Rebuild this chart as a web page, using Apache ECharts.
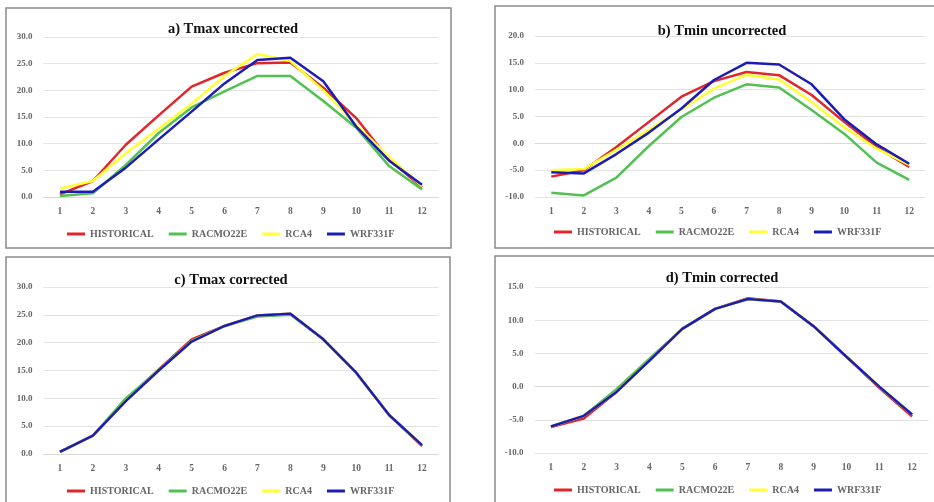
<!DOCTYPE html>
<html><head><meta charset="utf-8">
<script src="https://cdn.jsdelivr.net/npm/echarts@6/dist/echarts.min.js"></script>
<style>html,body{margin:0;padding:0;background:#fff}#c{width:934px;height:502px}</style>
</head><body><div id="c"></div>
<script>
const months = ['1','2','3','4','5','6','7','8','9','10','11','12'];
const seriesNames = ['HISTORICAL','RACMO22E','RCA4','WRF331F'];
const panelTitles = ['a) Tmax uncorrected','b) Tmin uncorrected','c) Tmax corrected','d) Tmin corrected'];

// a) Tmax uncorrected
const aHist  = [0.5, 3.0, 9.8, 15.3, 20.7, 23.3, 25.1, 25.2, 20.5, 14.8, 7.0, 1.8];
const aRacmo = [0.2, 0.7, 6.0, 12.0, 16.8, 19.8, 22.7, 22.7, 18.0, 13.0, 5.8, 1.4];
const aRca4  = [1.6, 3.0, 8.2, 12.8, 17.5, 22.7, 26.8, 25.5, 20.0, 13.5, 7.5, 2.0];
const aWrf   = [1.0, 1.0, 5.5, 10.8, 16.0, 21.3, 25.7, 26.1, 21.7, 13.2, 6.8, 2.3];
// b) Tmin uncorrected
const bHist  = [-6.2, -5.0, -0.7, 4.0, 8.7, 11.6, 13.3, 12.7, 9.0, 4.0, -0.7, -4.4];
const bRacmo = [-9.2, -9.7, -6.4, -0.5, 4.9, 8.5, 11.0, 10.4, 6.2, 1.8, -3.6, -6.8];
const bRca4  = [-5.0, -4.8, -1.2, 2.5, 6.3, 10.2, 12.8, 11.9, 7.7, 3.0, -1.0, -4.0];
const bWrf   = [-5.4, -5.6, -2.0, 2.0, 6.5, 11.8, 15.0, 14.7, 11.0, 4.5, -0.2, -3.8];
// c) Tmax corrected
const cHist  = [0.4, 3.3, 9.6, 15.2, 20.6, 23.0, 24.9, 25.2, 20.6, 14.6, 7.0, 1.4];
const cRacmo = [0.4, 3.3, 10.0, 15.1, 20.3, 23.0, 24.7, 25.0, 20.6, 14.6, 7.0, 1.6];
const cRca4  = [0.4, 3.3, 9.5, 15.0, 20.2, 23.0, 24.9, 25.2, 20.6, 14.6, 7.0, 1.6];
const cWrf   = [0.4, 3.3, 9.5, 15.0, 20.2, 23.0, 24.9, 25.2, 20.6, 14.6, 7.0, 1.6];
// d) Tmin corrected
const dHist  = [-6.1, -4.8, -0.8, 3.9, 8.7, 11.7, 13.3, 12.8, 9.1, 4.5, -0.2, -4.5];
const dRacmo = [-6.0, -4.4, -0.4, 4.2, 8.7, 11.7, 13.2, 12.8, 9.1, 4.5, 0.0, -4.2];
const dRca4  = [-6.0, -4.4, -0.8, 3.9, 8.7, 11.7, 13.2, 12.8, 9.1, 4.5, 0.0, -4.2];
const dWrf   = [-6.0, -4.4, -0.8, 3.9, 8.7, 11.7, 13.2, 12.8, 9.1, 4.5, 0.0, -4.2];

const yMins = [0, -10, 0, -10];
const yMaxs = [30, 20, 30, 15];
const yStep = 5;

const panelData = [
  [aHist, aRacmo, aRca4, aWrf],
  [bHist, bRacmo, bRca4, bWrf],
  [cHist, cRacmo, cRca4, cWrf],
  [dHist, dRacmo, dRca4, dWrf]
];

const colors = ['#e0262b', '#52c152', '#ffff33', '#1c1cb4'];
const serif = 'Liberation Serif';
const grids = [
  {left: 43.5, top: 37, width: 395, height: 160},
  {left: 535, top: 36, width: 390.5, height: 161},
  {left: 43.5, top: 287, width: 395, height: 167},
  {left: 534.5, top: 287, width: 394, height: 166}
];
const titlePos = [[228, 17], [717, 19], [226, 268], [717, 266]];
const legendPos = [[67, 229], [554, 227], [67, 486], [554, 485]];
const boxes = [
  {x: 6, y: 8, width: 445, height: 240},
  {x: 495, y: 6, width: 460, height: 242},
  {x: 6, y: 257, width: 444, height: 270},
  {x: 495, y: 256, width: 460, height: 270}
];

const option = {
  animation: false,
  backgroundColor: '#fff',
  color: colors,
  graphic: boxes.map(b => ({
    type: 'rect', shape: b, z: -1,
    style: {fill: '#fff', stroke: '#8a8a8a', lineWidth: 1.5}
  })),
  title: panelTitles.map((t, i) => ({
    text: t, left: titlePos[i][0], top: titlePos[i][1], textAlign: 'center',
    textStyle: {fontFamily: serif, fontWeight: 'bold', fontSize: 14.5, color: '#111'}
  })),
  legend: legendPos.map(p => ({
    data: seriesNames, left: p[0], top: p[1], orient: 'horizontal', padding: 0,
    icon: 'rect', itemWidth: 18, itemHeight: 3, itemGap: 15,
    textStyle: {fontFamily: serif, fontWeight: 'bold', fontSize: 10, color: '#666'}
  })),
  grid: grids,
  xAxis: grids.map((g, i) => ({
    type: 'category', gridIndex: i, data: months, boundaryGap: true,
    axisTick: {show: false},
    axisLine: {lineStyle: {color: '#d9d9d9'}},
    axisLabel: {fontFamily: serif, fontWeight: 'bold', fontSize: 9.5, color: '#666', margin: 10}
  })),
  yAxis: grids.map((g, i) => ({
    type: 'value', gridIndex: i, min: yMins[i], max: yMaxs[i], interval: yStep,
    axisLine: {show: false}, axisTick: {show: false},
    splitLine: {lineStyle: {color: '#e3e3e3'}},
    axisLabel: {fontFamily: serif, fontWeight: 'bold', fontSize: 9, color: '#666', margin: 11,
      formatter: v => v.toFixed(1)}
  })),
  series: []
};
panelData.forEach((arrs, p) => {
  arrs.forEach((arr, s) => {
    option.series.push({
      name: seriesNames[s], type: 'line', xAxisIndex: p, yAxisIndex: p,
      data: arr, showSymbol: false, symbol: 'none',
      lineStyle: {width: 2.5, color: colors[s]}, itemStyle: {color: colors[s]}
    });
  });
});
const chart = echarts.init(document.getElementById('c'), null, {renderer: 'canvas'});
chart.setOption(option);
</script></body></html>
